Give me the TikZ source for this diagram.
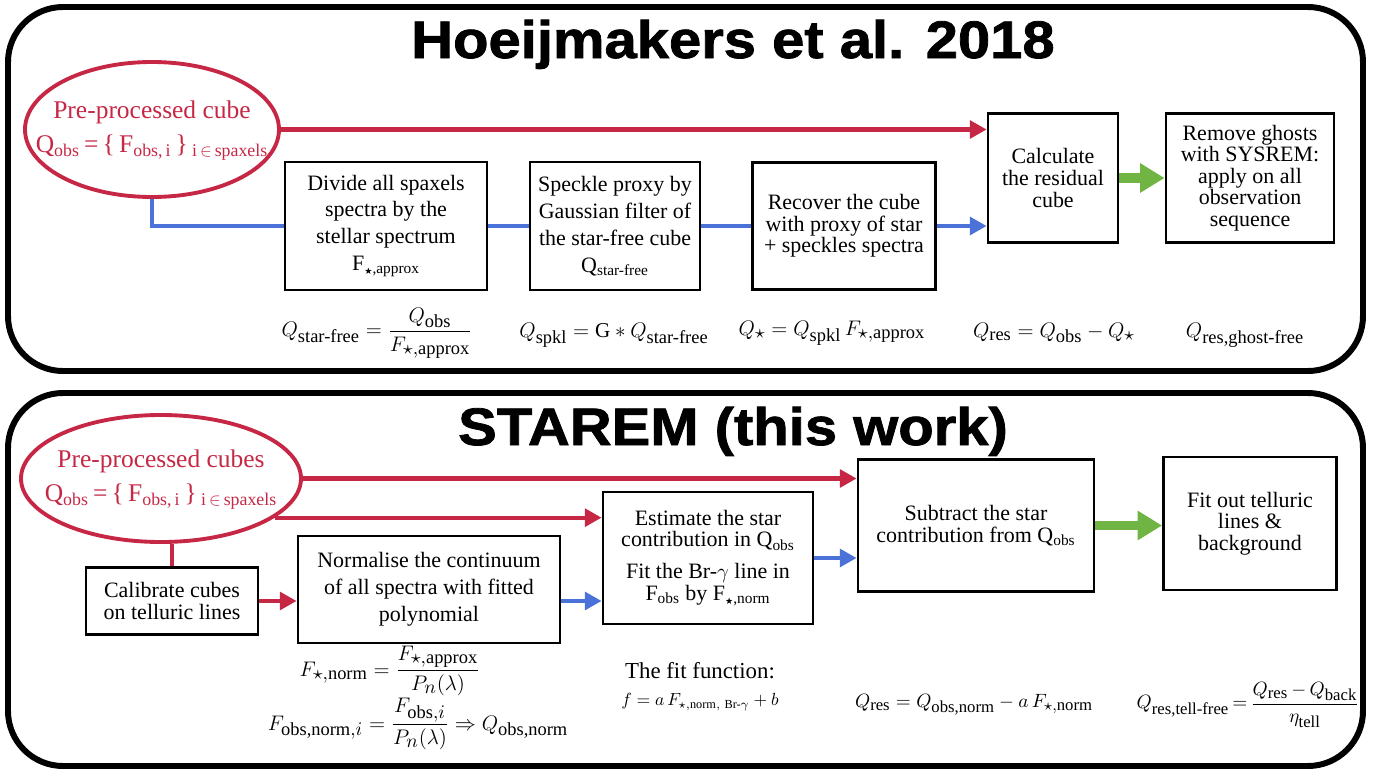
\documentclass[tikz,border=0pt]{standalone}
\usepackage{amsmath,amssymb}
\usepackage{fontspec}
\setmainfont{Liberation Serif}
\newfontfamily\titlefont{Liberation Sans}[FakeStretch=1.1,FakeBold=1.5]
\usetikzlibrary{shapes.geometric,arrows.meta}
\DeclareMathSizes{12}{12}{10.5}{8}
\DeclareMathSizes{11}{11}{9.5}{7}
\definecolor{cubered}{HTML}{C52745}
\definecolor{flowblue}{HTML}{4B72D8}
\definecolor{flowgreen}{HTML}{70B443}
\newcommand{\fstar}{$\scriptscriptstyle\bigstar$}

\begin{document}
\begin{tikzpicture}[x=0.02cm,y=-0.02cm,
	panel/.style={draw,line width=3.4pt,rounded corners=1.1cm},
	heading/.style={font=\titlefont\bfseries\fontsize{30}{30}\selectfont,anchor=base},
	boxsize/.style 2 args={minimum width=#1*0.02cm,minimum height=#2*0.02cm},
	cube/.style={ellipse,draw=cubered,line width=2.2pt,text=cubered,inner sep=0pt,font=\fontsize{14.5}{17.5}\selectfont},
	stepbox/.style={draw,line width=1.6pt,align=center,inner sep=2pt,font=\fontsize{12.5}{12.3}\selectfont},
	spread/.style={font=\fontsize{12.5}{15.3}\selectfont},
	formula/.style={font=\fontsize{12}{14}\selectfont},
	redline/.style={cubered,line width=2.3pt},
	blueline/.style={flowblue,line width=2.3pt},
	headed/.style={-{Triangle[length=9.5pt,width=10pt]}},
	greenarrow/.style={flowgreen,line width=5.5pt,-{Triangle[length=14pt,width=16pt]}}]
\useasboundingbox (0,0) rectangle (1377,771);

\draw[panel] (8,7) rectangle (1363,371);
\node[heading] (titleA) at (733,58) {Hoeijmakers et al. 2018};
\node[cube,boxsize={254}{135}] (cubeA) at (152,129.5) {\makebox[0pt]{\begin{tabular}{@{}c@{}}Pre-processed cube\\[2pt]Q\textsubscript{obs}\,=\,\{\,F\textsubscript{obs,\,i}\,\}\,\textsubscript{i\,$\in$\,spaxels}\end{tabular}}};
\node[stepbox,spread,boxsize={202}{128}] (divide) at (386,226) {Divide all spaxels\\spectra by the\\stellar spectrum\\F\textsubscript{\fstar,approx}};
\node[stepbox,spread,boxsize={170}{128}] (speckle) at (615,226) {Speckle proxy by\\Gaussian filter of\\the star-free cube\\Q\textsubscript{star-free}};
\node[stepbox,boxsize={183}{127}] (recover) at (844,226) {Recover the cube\\with proxy of star\\+ speckles spectra};
\node[stepbox,boxsize={130}{129}] (resid) at (1053,178) {Calculate\\the residual\\cube};
\node[stepbox,boxsize={168}{129}] (ghosts) at (1250,178) {Remove ghosts\\with SYSREM:\\apply on all\\observation\\sequence};
\draw[redline,headed] (cubeA.east) -- (cubeA.east -| resid.west);
\draw[blueline] (cubeA.south) |- (divide.west) (divide.east) -- (speckle.west) (speckle.east) -- (recover.west);
\draw[blueline,headed] (recover.east) -- (recover.east -| resid.west);
\draw[greenarrow] (resid.east) -- (ghosts.west);
\node[formula] (eqStarFree) at (377,333) {$Q_{\text{star-free}} = \dfrac{Q_{\text{obs}}}{F_{\star,\text{approx}}}$};
\node[formula] (eqSpkl) at (614,335) {$Q_{\text{spkl}} = \mathrm{G} * Q_{\text{star-free}}$};
\node[formula] (eqStar) at (832,333) {$Q_\star = Q_{\text{spkl}}\,F_{\star,\text{approx}}$};
\node[formula] (eqRes) at (1054,333) {$Q_{\text{res}} = Q_{\text{obs}} - Q_\star$};
\node[formula] (eqGhost) at (1245,335) {$Q_{\text{res,ghost-free}}$};

\draw[panel] (8,393) rectangle (1363,766);
\node[heading] (titleB) at (733,445) {STAREM (this work)};
\node[cube,boxsize={280}{127}] (cubeB) at (161,478.5) {\makebox[0pt]{\begin{tabular}{@{}c@{}}Pre-processed cubes\\[2pt]Q\textsubscript{obs}\,=\,\{\,F\textsubscript{obs,\,i}\,\}\,\textsubscript{i\,$\in$\,spaxels}\end{tabular}}};
\node[stepbox,boxsize={172}{67}] (calib) at (172,601) {Calibrate cubes\\on telluric lines};
\node[stepbox,spread,boxsize={262}{107}] (normal) at (429,589.5) {Normalise the continuum\\of all spectra with fitted\\polynomial};
\node[stepbox,boxsize={210}{132}] (estim) at (708,558) {Estimate the star\\contribution in Q\textsubscript{obs}\\[6pt]Fit the Br-$\gamma$ line in\\F\textsubscript{obs} by F\textsubscript{\fstar,norm}};
\node[stepbox,boxsize={236}{132}] (subtr) at (976,525.5) {Subtract the star\\contribution from Q\textsubscript{obs}};
\node[stepbox,boxsize={173}{133}] (tellu) at (1250,523.5) {Fit out telluric\\lines \&\\background};
\draw[redline,headed] (cubeB.east) -- (cubeB.east -| subtr.west);
\draw[redline,headed] (cubeB.-19) -- (cubeB.-19 -| estim.west);
\draw[redline] (calib.north |- cubeB.south) -- (calib.north);
\draw[redline,headed] (calib.east) -- (calib.east -| normal.west);
\draw[blueline,headed] (calib.east -| normal.east) -- (calib.east -| estim.west);
\draw[blueline,headed] (estim.east) -- (estim.east -| subtr.west);
\draw[greenarrow] (subtr.east) -- (subtr.east -| tellu.west);
\node[formula] (eqNorm) at (390,671) {$F_{\star,\text{norm}} = \dfrac{F_{\star,\text{approx}}}{P_n(\lambda)}$};
\node[formula] (eqObsNorm) at (418,724) {$F_{\text{obs,norm},i} = \dfrac{F_{\text{obs},i}}{P_n(\lambda)} \Rightarrow Q_{\text{obs,norm}}$};
\node[font=\fontsize{13}{15}\selectfont] (fitText) at (700,671) {The fit function:};
\node[font=\fontsize{10}{12}\selectfont] (fitEq) at (700,702) {$f = a\,F_{\star,\text{norm},\ \text{Br-}\gamma} + b$};
\node[font=\fontsize{11}{13}\selectfont] (eqResB) at (974,705) {$Q_{\text{res}} = Q_{\text{obs,norm}} - a\,F_{\star,\text{norm}}$};
\node[font=\fontsize{11}{13}\selectfont,inner sep=0pt] (eqTell) at (1248,705) {$Q_{\text{res,tell-free}} \,{=}\, \dfrac{Q_{\text{res}} \,{-}\, Q_{\text{back}}}{\eta_{\text{tell}}}$};
\end{tikzpicture}
\end{document}
